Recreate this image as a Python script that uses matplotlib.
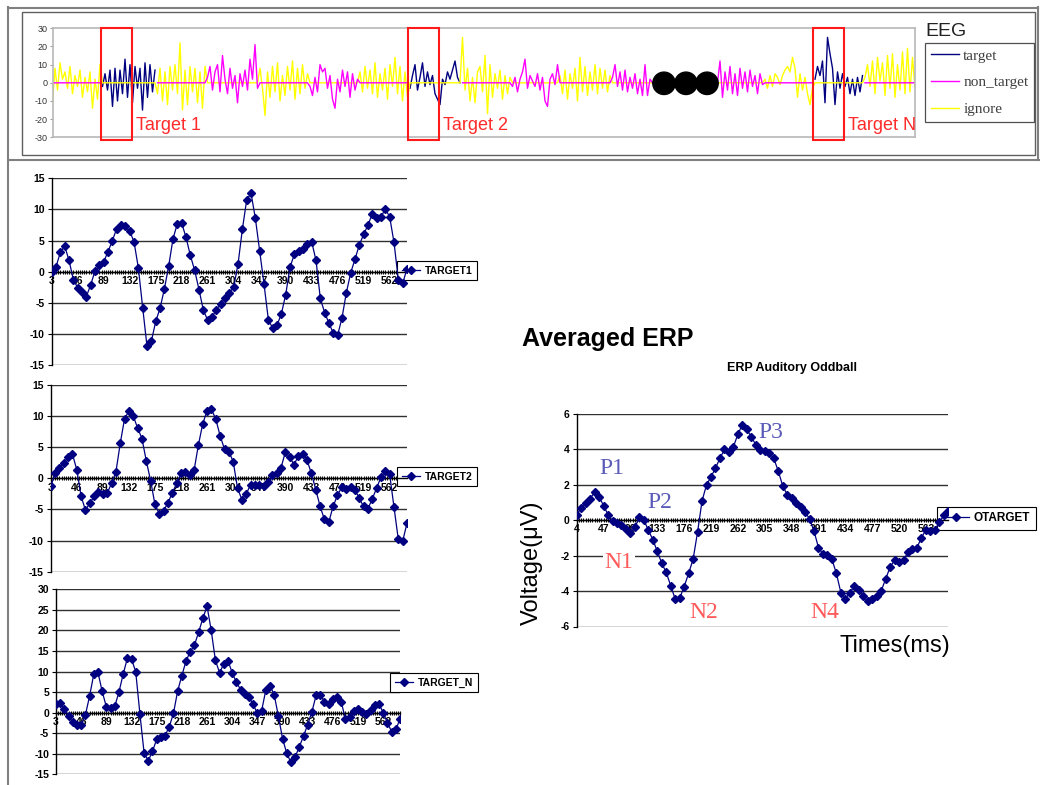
import numpy as np
import matplotlib
matplotlib.use('Agg')
import matplotlib.pyplot as plt
from matplotlib.patches import Rectangle, Circle

plt.rcParams['font.family'] = ['Liberation Sans', 'DejaVu Sans']
plt.rcParams['axes.unicode_minus'] = False

W, H = 1040, 785
NAVY = '#000080'

# ---------------- data ----------------
# EEG strip: consecutive segments, each tagged with the class it belongs to
seg_kind = ['ignore', 'target', 'ignore', 'non_target', 'ignore', 'non_target',
            'ignore', 'target', 'ignore', 'non_target', 'ignore', 'non_target',
            'gap', 'non_target', 'ignore', 'target', 'ignore']
seg_values = [
    [-11, 8, -4, 11, 2, 6, -3, 9, -6, 4, -2, 7, -8, 3, -5, 6, -14, 2, -9, 10],
    [-2, 5, -4, 7, -13, 8, -10, 7, -6, 13, -8, 10, -11, 9, -3, 8, -15, 11, -8, 10, -5, 7],
    [-6, 8, -10, 6, -12, 9, -4, 10, -6, 22, -15, 7, -12, 9, -5, 8, -11, 6, -14, 9],
    [3, 9, -4, 6, 10, -5, 15, 2, -6, 8, -3, 4, -11, 5, -2, 7, -4, 13, 2, 21, -3],
    [8, -3, -18, 6, -8, 9, -5, 11, -10, 4, -7, 9, -4, 12, -9, 8, -6, 10, -3, 5],
    [-2, -7, 3, -5, 10, 6, 8, -3, 4, -9, -14, 2, -5, 7, -2, 6, -8, 5, -4, 2],
    [6, -5, 9, -3, 7, -6, 11, -8, 5, -4, 8, -9, 10, -2, 14, -6, 9, -10, 6, -8],
    [-3, 4, 10, -4, 3, 11, -2, 6, -1, 4, -6, -9, -12, 2, -1, 6, 2, 7, 12, 3, 0],
    [25, -4, 8, -10, 3, -11, 6, 9, -5, 15, -17, 10, -8, 5, -3, 7, -9, 4, -6, 3],
    [-2, 3, -5, 2, 6, 13, -3, 4, 1, -2, 5, -4, 3, -10, -13, 2, 5, -1, 10],
    [4, -6, 7, -9, 5, -3, 8, -10, 14, -5, 9, -7, 6, -4, 10, -6, 8, -3, 7, -5, 4],
    [3, 10, -2, 6, -4, 7, -5, 3, -3, 5, -6, 2, -7, 10, -7, 2],
    [0] * 27,
    [12, -8, 6, -4, 9, -6, 5, -7, 8, -3, 6, -5, 7, -2, 4, -6, 5, -1],
    [2, -3, 4, -2, 5, 3, -1, 4, 7, 9, 6, 14, 8, -8, 5, -4, 3, -6, -12, -3],
    [2, 9, 4, 12, -11, 25, 16, 8, -12, 6, -3, 5, -2, 3, -6, 2, -7, 3, -5, 4],
    [3, 10, -2, 12, -6, 14, 1, 11, -7, 15, -3, 16, -8, 10, -4, 17, -6, 19, -5, 14, -3],
]

cat_labels = ['3', '46', '89', '132', '175', '218', '261', '304', '347', '390',
              '433', '476', '519', '562']
target1 = [0, 0.8, 3.1, 4.1, 1.8, -1.3, -2.6, -3.2, -4.0, -2.1, 0.1, 1.0, 1.6, 3.2,
           5.0, 6.9, 7.5, 7.3, 6.5, 4.8, 0.6, -5.8, -12.0, -11.2, -8.0, -5.9, -2.8,
           0.9, 5.3, 7.7, 7.8, 5.5, 2.6, 0.2, -2.9, -6.2, -7.8, -7.3, -6.1, -5.2,
           -4.2, -3.4, -2.5, 1.2, 6.8, 11.5, 12.6, 8.6, 3.3, -2.0, -7.7, -9.1, -8.6,
           -6.8, -3.7, 0.7, 2.8, 3.3, 3.7, 4.5, 4.8, 1.8, -4.3, -6.6, -8.3, -9.9,
           -10.2, -7.4, -3.4, -0.2, 2.0, 4.3, 6.0, 7.5, 9.3, 8.7, 8.8, 10.1, 8.8,
           4.7, -1.3, -1.9, 0.5]
target2 = [-1.3, 0.8, 1.7, 2.4, 3.4, 3.9, 1.4, -2.9, -5.1, -4.0, -2.9, -2.2, -2.5,
           -2.4, -0.8, 1.0, 5.6, 9.6, 10.8, 10.0, 8.1, 6.4, 2.8, -0.4, -4.2, -5.7,
           -5.2, -3.9, -2.3, -0.8, 0.8, 1.1, 0.6, 1.3, 5.4, 8.8, 10.9, 11.1, 9.5,
           6.8, 4.7, 4.3, 2.7, -1.6, -3.4, -2.5, -1.0, -1.1, -1.0, -1.2, -0.6, 0.5,
           0.8, 1.7, 4.2, 3.4, 2.2, 3.6, 3.9, 2.9, 0.8, -1.8, -4.5, -6.6, -7.0, -4.5,
           -2.7, -1.4, -1.7, -1.4, -1.8, -3.2, -4.5, -4.9, -3.3, -1.6, 0.2, 1.2, 0.7,
           -4.6, -9.8, -10.1, -7.2]
target_n = [2.0, 2.3, 1.0, -0.9, -2.3, -3.1, -3.0, -0.6, 4.0, 9.3, 9.8, 5.2, 1.4,
            1.2, 1.5, 5.0, 9.3, 13.2, 13.0, 10.0, -0.3, -9.8, -11.7, -9.4, -6.5,
            -6.0, -5.6, -3.4, -0.2, 5.3, 9.0, 12.6, 14.8, 16.4, 19.6, 22.9, 25.9,
            20.0, 12.7, 9.7, 11.9, 12.6, 9.7, 7.4, 5.6, 4.5, 3.8, 2.0, -0.2, 0.4,
            5.4, 6.6, 4.4, -0.8, -6.3, -9.9, -12.1, -10.8, -8.3, -5.7, -2.9, 0.2,
            4.2, 4.4, 2.6, 2.0, 3.3, 3.8, 2.6, -1.6, -1.1, 0.4, 0.9, 0.1, -0.3, 0.7,
            1.9, 2.1, 0.0, -2.5, -4.6, -4.1, -1.6]

erp_labels = ['4', '47', '90', '133', '176', '219', '262', '305', '348', '391',
              '434', '477', '520', '563']
otarget = [0.28, 0.72, 0.98, 1.22, 1.58, 1.33, 0.83, 0.31, -0.05, -0.15, -0.27,
           -0.52, -0.7, -0.4, 0.18, 0.0, -0.55, -1.1, -1.75, -2.43, -2.95, -3.7,
           -4.45, -4.4, -3.75, -3.0, -2.2, -0.66, 1.1, 2.0, 2.45, 2.95, 3.5, 4.0,
           3.88, 4.15, 4.85, 5.4, 5.13, 4.7, 4.27, 3.95, 3.9, 3.82, 3.5, 2.8, 1.95,
           1.45, 1.26, 1.0, 0.75, 0.47, 0.08, -0.6, -1.55, -1.9, -1.96, -2.2, -3.0,
           -4.08, -4.42, -4.12, -3.7, -3.95, -4.3, -4.57, -4.47, -4.28, -4.0, -3.32,
           -2.65, -2.25, -2.35, -2.25, -1.8, -1.63, -1.55, -0.98, -0.55, -0.6, -0.55,
           -0.1, 0.27, 0.5]


def px_rect(l, t, r, b):
    return [l / W, 1 - b / H, (r - l) / W, (b - t) / H]


fig = plt.figure(figsize=(W / 100, H / 100), dpi=100)

# background frame (pixel coordinates)
bg = fig.add_axes([0, 0, 1, 1])
bg.set_xlim(0, W)
bg.set_ylim(H, 0)
bg.axis('off')
bg.plot([7.5, 7.5], [7, H], color='#808080', lw=1.5)
bg.plot([7.5, 1037.5], [7.5, 7.5], color='#808080', lw=1.5)
bg.plot([1037.5, 1037.5], [7, 160], color='#808080', lw=1.5)
bg.plot([7.5, W], [160, 160], color='#808080', lw=1.5)
bg.add_patch(Rectangle((22, 12), 1013, 143, fill=False, ec='#606060', lw=1.0))

# ---------------- EEG strip ----------------
tgt, ign, non = [], [], []
for kind, vals in zip(seg_kind, seg_values):
    v = np.array(vals, float)
    z = np.zeros(len(v))
    nan = np.full(len(v), np.nan)
    if kind == 'target':
        tgt.append(v); ign.append(z); non.append(nan)
    elif kind == 'non_target':
        tgt.append(nan); ign.append(z); non.append(v)
    elif kind == 'ignore':
        tgt.append(nan); ign.append(v); non.append(z)
    else:
        tgt.append(nan); ign.append(z); non.append(z)
tgt = np.concatenate(tgt)
ign = np.concatenate(ign)
non = np.concatenate(non)
xs = np.arange(len(tgt))

ax0 = fig.add_axes(px_rect(52.5, 28.3, 915, 137.3))
l_t, = ax0.plot(xs, tgt, color=NAVY, lw=1.0, label='target')
l_i, = ax0.plot(xs, ign, color='#ffff00', lw=1.0, label='ignore')
l_n, = ax0.plot(xs, non, color='#ff00ff', lw=1.0, label='non_target')
ax0.set_xlim(0, len(xs) - 1)
ax0.set_ylim(-30, 30)
ax0.set_yticks(range(-30, 31, 10))
ax0.set_xticks([])
ax0.tick_params(axis='y', labelsize=6.5, labelcolor='#333333', length=2,
                color='#a0a0a0', pad=1.5)
for s in ax0.spines.values():
    s.set_color('#b8b8b8')
    s.set_linewidth(1.2)
leg0 = ax0.legend([l_t, l_n, l_i], ['target', 'non_target', 'ignore'],
                  loc='upper left', bbox_to_anchor=(925 / W, 1 - 43 / H),
                  bbox_transform=fig.transFigure, borderaxespad=0,
                  fancybox=False, edgecolor='#505050', framealpha=1,
                  handlelength=1.8, handletextpad=0.3, borderpad=0.4,
                  labelspacing=0.85,
                  prop={'family': 'Liberation Serif', 'size': 11})
for t in leg0.get_texts():
    t.set_color('#404040')
leg0.get_frame().set_linewidth(0.9)


# ---------------- Excel style line charts ----------------
def excel_chart(rect, vals, ylim, ystep, labels, name, leg_xy, per_label=6,
                leg_size=7.5, leg_handle=1.8):
    ax = fig.add_axes(px_rect(*rect))
    x = np.arange(len(vals))
    line, = ax.plot(x, vals, color=NAVY, lw=0.9, marker='D', ms=4.4,
                    mec=NAVY, mfc=NAVY, zorder=3)
    ax.set_xlim(0, len(vals) - 1)
    ax.set_ylim(*ylim)
    ax.set_yticks(np.arange(ylim[0], ylim[1] + 1, ystep))
    ax.yaxis.grid(True, color='#303030', lw=1.0)
    ax.set_axisbelow(True)
    ax.spines['top'].set_visible(False)
    ax.spines['right'].set_visible(False)
    ax.spines['bottom'].set_position(('data', 0))
    ax.spines['bottom'].set_linewidth(1.0)
    ax.spines['left'].set_linewidth(1.0)
    ax.set_xticks(np.arange(len(labels)) * per_label)
    ax.set_xticklabels(labels)
    ax.set_xticks(np.arange(0, len(vals) - 0.9, 0.5), minor=True)
    ax.tick_params(axis='x', which='both', direction='inout', length=3,
                   width=0.8, pad=1.5)
    ax.tick_params(axis='y', length=3, pad=2)
    for t in ax.get_xticklabels() + ax.get_yticklabels():
        t.set_fontsize(7.5)
        t.set_fontweight('bold')
    leg = ax.legend([line], [name], loc='upper left',
                    bbox_to_anchor=(leg_xy[0] / W, 1 - leg_xy[1] / H),
                    bbox_transform=fig.transFigure, borderaxespad=0,
                    fancybox=False, edgecolor='black', framealpha=1,
                    handlelength=leg_handle, handletextpad=0.4, borderpad=0.45,
                    prop={'weight': 'bold', 'size': leg_size})
    leg.get_frame().set_linewidth(0.8)
    leg.set_zorder(1)
    return ax


excel_chart((51.7, 178.3, 407, 365), target1, (-15, 15), 5, cat_labels,
            'TARGET1', (397, 261))
excel_chart((50.7, 385, 407, 571.7), target2, (-15, 15), 5, cat_labels,
            'TARGET2', (397, 467))
excel_chart((56, 589.3, 400, 774.3), target_n, (-15, 30), 5, cat_labels,
            'TARGET_N', (390, 673))
erp = excel_chart((576.7, 414, 948.3, 626.5), otarget, (-6, 6), 2, erp_labels,
                  'OTARGET', (936.7, 507), leg_size=8.5, leg_handle=2.3)
erp.text(0.579, 1.217, 'ERP Auditory Oddball', transform=erp.transAxes,
         ha='center', va='center', fontsize=9, fontweight='bold')
erp.set_ylabel('Voltage(\u03bcV)', fontsize=17)
erp.yaxis.set_label_coords(-0.09, 0.30)
erp.set_xlabel('Times(ms)', fontsize=17)
erp.xaxis.set_label_coords(0.855, -0.04)

# ---------------- overlay annotations (pixel coordinates) ----------------
ov = fig.add_axes([0, 0, 1, 1], zorder=10)
ov.set_xlim(0, W)
ov.set_ylim(H, 0)
ov.axis('off')
ov.patch.set_alpha(0)

for x0, lab in [(101, 'Target 1'), (408, 'Target 2'), (813, 'Target N')]:
    ov.add_patch(Rectangle((x0, 27.5), 31, 112.5, fill=False, ec='#ff1a1a', lw=1.5))
    ov.text(x0 + 35, 126, lab, color='#ff2a2a', fontsize=13, ha='left', va='center')

for cx in (664, 686, 707):
    ov.add_patch(Circle((cx, 83.3), 11.2, color='black'))

ov.text(925, 31, 'EEG', fontsize=14, color='#222222', ha='left', va='center')
ov.text(522, 339, 'Averaged ERP', fontsize=18, fontweight='bold', ha='left', va='center')

pk = dict(family='Liberation Serif', fontsize=17, ha='center', va='center')
ov.text(611.7, 469, 'P1', color='#5a5ab8', **pk)
ov.text(660, 502.5, 'P2', color='#5a5ab8', **pk)
ov.text(771, 432, 'P3', color='#5a5ab8', **pk)
ov.text(619, 563, 'N1', color='#ff5a5a',
        bbox=dict(fc='white', ec='none', pad=1), **pk)
ov.text(703.5, 612, 'N2', color='#ff5a5a', **pk)
ov.text(825, 612, 'N4', color='#ff5a5a', **pk)

fig.savefig('out.png', dpi=100)
